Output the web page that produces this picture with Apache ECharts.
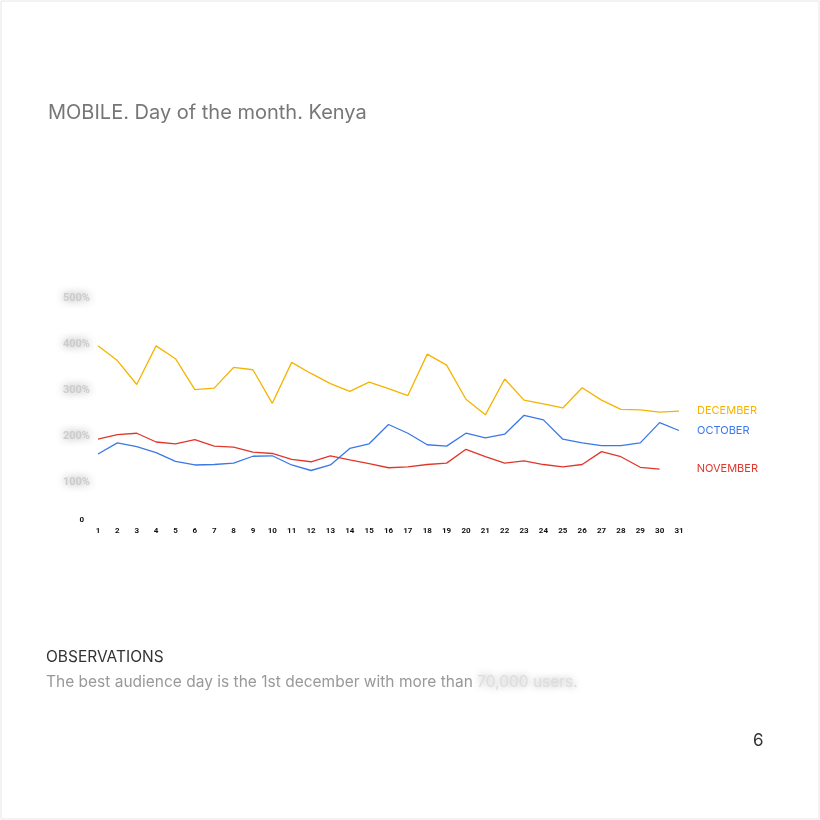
<!DOCTYPE html>
<html>
<head>
<meta charset="utf-8">
<script src="https://cdn.jsdelivr.net/npm/echarts@6/dist/echarts.min.js"></script>
<style>
html,body{margin:0;padding:0;background:#fff;}
#chart{width:820px;height:820px;}
</style>
</head>
<body>
<div id="chart"></div>
<script>
var days = [];
for (var d = 1; d <= 31; d++) days.push(String(d));
var december = [3960, 3640, 3120, 3960, 3680, 3010, 3040, 3490, 3440, 2710, 3600, 3360, 3140, 2970, 3170, 3030, 2880, 3780, 3540, 2800, 2460, 3240, 2780, 2700, 2610, 3050, 2780, 2580, 2570, 2520, 2540];
var october = [1610, 1850, 1770, 1640, 1450, 1370, 1380, 1410, 1560, 1570, 1370, 1250, 1370, 1730, 1830, 2250, 2060, 1810, 1780, 2060, 1960, 2040, 2450, 2350, 1930, 1850, 1790, 1790, 1850, 2290, 2120];
var november = [1930, 2030, 2060, 1870, 1830, 1920, 1780, 1760, 1650, 1620, 1490, 1440, 1570, 1480, 1400, 1310, 1330, 1380, 1410, 1710, 1550, 1410, 1460, 1380, 1330, 1380, 1660, 1550, 1320, 1280];

var myChart = echarts.init(document.getElementById('chart'), null, {renderer: 'canvas'});
var font = 'Inter, "Open Sans", sans-serif';

function line(name, data, color, offsetX) {
    return {
        name: name,
        type: 'line',
        data: data,
        symbol: 'none',
        lineStyle: {color: color, width: 1.3},
        itemStyle: {color: color},
        endLabel: {
            show: true,
            formatter: name,
            color: color,
            fontSize: 11,
            fontFamily: 'Inter, sans-serif',
            distance: 18,
            offset: [offsetX, 0]
        }
    };
}

var option = {
    backgroundColor: '#fff',
    graphic: [
        {type: 'rect', shape: {x: 1, y: 1, width: 818, height: 818}, style: {fill: 'none', stroke: '#e6e6e6'}},
        {type: 'text', left: 48, top: 103, style: {text: 'MOBILE. Day of the month. Kenya', fill: '#777', font: '20px ' + font}},
        {type: 'text', left: 46, top: 649, style: {text: 'OBSERVATIONS', fill: '#333', font: '15.5px ' + font}},
        {type: 'text', left: 46, top: 674, style: {
            text: 'The best audience day is the 1st december with more than {b|70,000 users.}',
            fill: '#999', font: '15.5px ' + font,
            rich: {b: {fill: '#ddd', font: '15.5px ' + font, textShadowColor: '#aaa', textShadowBlur: 7}}
        }},
        {type: 'text', left: 753, top: 732, style: {text: '6', fill: '#333', font: '17px ' + font}}
    ],
    grid: {left: 98, right: 141, top: 298, bottom: 292},
    xAxis: {
        type: 'category',
        data: days,
        boundaryGap: false,
        axisLine: {show: false},
        axisTick: {show: false},
        axisLabel: {color: '#111', fontSize: 8, fontWeight: 'bold', fontFamily: 'Roboto, sans-serif', margin: 0, verticalAlign: 'top', padding: [-1, 0, 0, 0]}
    },
    yAxis: {
        type: 'value',
        min: 0,
        max: 5000,
        interval: 1000,
        splitLine: {show: false},
        axisLine: {show: false},
        axisTick: {show: false},
        axisLabel: {
            margin: 8,
            fontFamily: 'Roboto, sans-serif',
            formatter: function (v) { return v === 0 ? '{z|0}' : '{b|' + (v / 10) + '%}'; },
            rich: {
                z: {color: '#111', fontSize: 8, fontWeight: 'bold', padding: [0, 6, 16, 0]},
                b: {color: '#ccc', fontSize: 11, fontWeight: 'bold', textShadowColor: '#999', textShadowBlur: 8}
            }
        }
    },
    series: [
        line('DECEMBER', december, '#f5b400', 0),
        line('OCTOBER', october, '#3b78e7', 0),
        line('NOVEMBER', november, '#e0372c', 19)
    ]
};
myChart.setOption(option);
window.addEventListener('resize', myChart.resize);
</script>
</body>
</html>
